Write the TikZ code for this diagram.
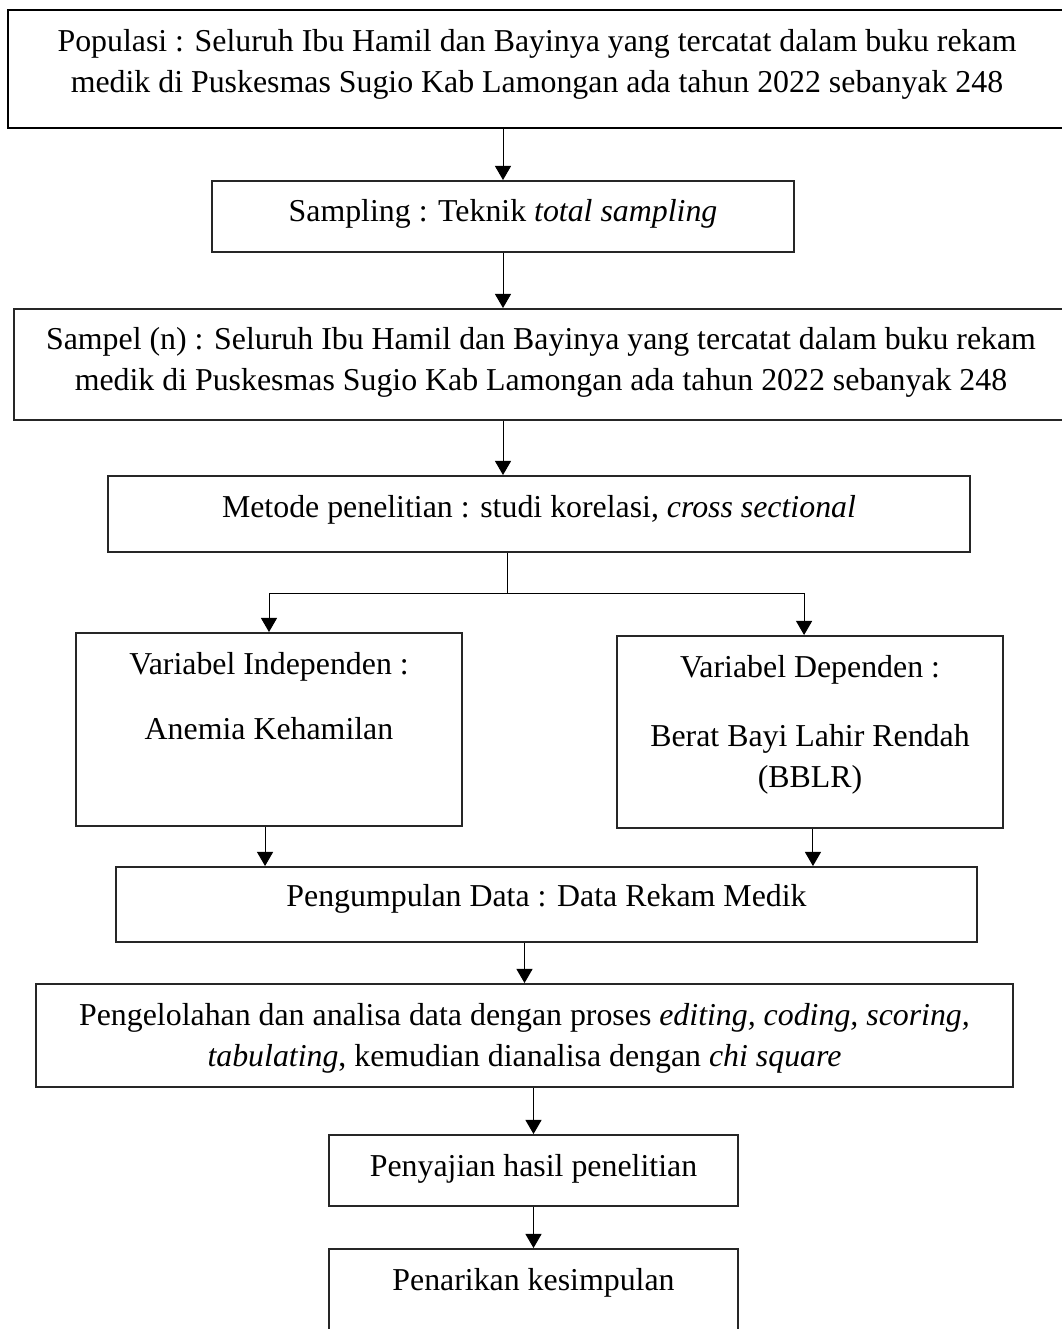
\documentclass[tikz,border=0pt]{standalone}
\usepackage{fontspec}
\setmainfont{Liberation Serif}
\usepackage{tikz}
\usetikzlibrary{arrows.meta,calc}

\newdimen\px \px=0.405bp
% width, height, first baseline, text
\newcommand{\boxcontent}[4]{\parbox[c][#2\px][t]{#1\px}{\centering\rule{0pt}{#3\px}#4\par}}

\tikzset{
  flow/.style={draw=black!85,line width=0.8bp,inner sep=0pt},
}

\begin{document}
\begin{tikzpicture}[x=0.405bp,y=-0.405bp,>={Triangle[length=5.7bp,width=6.5bp]},
  font=\fontsize{12.9bp}{16.6bp}\selectfont]
\useasboundingbox (0,0) rectangle (1061,1329);
%%
\node (pop) at (537,69) [flow,draw=black,line width=1.2bp] {\boxcontent{1058}{118}{42}{Populasi : Seluruh Ibu Hamil dan Bayinya yang tercatat dalam buku rekam\\ medik di Puskesmas Sugio Kab Lamongan ada tahun 2022 sebanyak 248}};
  \node (samp) at (503,216.5) [flow] {\boxcontent{582}{71}{41}{Sampling : Teknik \textit{total sampling}}};
  \node (sampel) at (541,364.5) [flow] {\boxcontent{1054}{111}{41}{Sampel (n) : Seluruh Ibu Hamil dan Bayinya yang tercatat dalam buku rekam\\ medik di Puskesmas Sugio Kab Lamongan ada tahun 2022 sebanyak 248}};
  \node (metode) at (539,514) [flow] {\boxcontent{862}{76}{41}{Metode penelitian : studi korelasi, \textit{cross sectional}}};
  \node (indep) at (269,729.5) [flow] {\boxcontent{386}{193}{41}{Variabel Independen :\\[25\px] Anemia Kehamilan}};
  \node (dep) at (810,732) [flow] {\boxcontent{386}{192}{41}{Variabel Dependen :\\[29\px] Berat Bayi Lahir Rendah\\ (BBLR)}};
  \node (kumpul) at (546.5,904.5) [flow] {\boxcontent{861}{75}{39}{Pengumpulan Data : Data Rekam Medik}};
  \node (olah) at (524.5,1035.5) [flow] {\boxcontent{977}{103}{41}{Pengelolahan dan analisa data dengan proses \textit{editing, coding, scoring,}\\ \textit{tabulating}, kemudian dianalisa dengan \textit{chi square}}};
  \node (saji) at (533.5,1170.5) [flow] {\boxcontent{409}{71}{41}{Penyajian hasil penelitian}};
  \node (tarik) at (533.5,1297) [flow] {\boxcontent{409}{96}{41}{Penarikan kesimpulan}};
  \coordinate (split) at (507,593);
%
  \draw [->] (pop.south -| samp.north) -- (samp.north);
  \draw [->] (samp.south) -- (samp.south |- sampel.north);
  \draw [->] (sampel.south -| samp.south) -- (metode.north -| samp.south);
  \draw (metode.south -| split) -- (split);
  \draw [->] (split) -| (indep.north);
  \draw [->] (split) -| ([xshift=-2.4bp]dep.north);
  \draw [->] ([xshift=-1.6bp]indep.south) -- ([xshift=-1.6bp]indep.south |- kumpul.north);
  \draw [->] ([xshift=1.2bp]dep.south) -- ([xshift=1.2bp]dep.south |- kumpul.north);
  \draw [->] (olah.north |- kumpul.south) -- (olah.north);
  \draw [->] (saji.north |- olah.south) -- (saji.north);
  \draw [->] (saji) -- (tarik);
%
\end{tikzpicture}
\end{document}
